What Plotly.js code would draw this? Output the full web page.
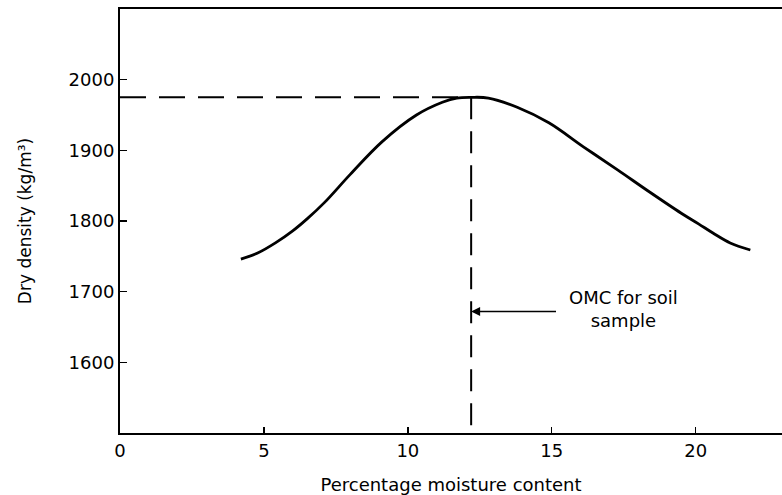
<!DOCTYPE html>
<html>
<head>
<meta charset="utf-8">
<script src="https://cdn.plot.ly/plotly-3.0.1.min.js"></script>
<style>html,body{margin:0;padding:0;background:#fff;}#chart{width:782px;height:495px;}</style>
</head>
<body>
<div id="chart"></div>
<script>
// Data
const moisture = [4.2, 4.8, 5.4, 6.0, 6.5, 7.1, 8.0, 9.1, 10.3, 11.2, 11.7, 12.2, 12.8, 13.8, 14.9, 16.1, 17.3, 18.4, 19.5, 20.1, 20.6, 21.2, 21.9];
const density = [1746, 1755, 1769, 1786, 1803, 1826, 1866, 1912, 1950, 1968, 1974, 1975, 1974, 1961, 1939, 1905, 1872, 1841, 1811, 1796, 1783, 1769, 1759];
const omc = 12.2;
const maxDensity = 1975;
const xTicks = [0, 5, 10, 15, 20];
const yTicks = [1600, 1700, 1800, 1900, 2000];
const arrowStartX = 15.2;
const arrowY = 1672;
const labelX = 17.5;
const labelY = 1676;
const labelText = "OMC for soil<br>sample";

const font = {family: "DejaVu Sans, Arial, sans-serif", color: "#000"};
const fs = 18;

const traces = [
  {
    x: moisture, y: density, type: "scatter", mode: "lines",
    line: {color: "#000", width: 2.8, shape: "spline", smoothing: 1},
    hoverinfo: "skip", showlegend: false
  },
  {
    x: [0, omc], y: [maxDensity, maxDensity], type: "scatter", mode: "lines",
    line: {color: "#000", width: 2, dash: "26px,13px"},
    hoverinfo: "skip", showlegend: false
  },
  {
    x: [omc, omc], y: [maxDensity, 1500], type: "scatter", mode: "lines",
    line: {color: "#000", width: 2, dash: "22px,12px"},
    hoverinfo: "skip", showlegend: false
  }
];

const layout = {
  width: 782, height: 495,
  margin: {l: 120, r: 0, t: 9, b: 62},
  paper_bgcolor: "#fff", plot_bgcolor: "#fff",
  showlegend: false,
  font: Object.assign({size: fs}, font),
  xaxis: {
    range: [0, 23], tickvals: xTicks, ticktext: xTicks.map(String),
    showgrid: false, zeroline: false,
    showline: true, mirror: true, linecolor: "#000", linewidth: 2,
    ticks: "inside", ticklen: 6, tickwidth: 1.5, tickcolor: "#000",
    tickfont: Object.assign({size: fs}, font),
    title: {text: "Percentage moisture content", font: Object.assign({size: fs}, font), standoff: 20}
  },
  yaxis: {
    range: [1500, 2100], tickvals: yTicks, ticktext: yTicks.map(String),
    showgrid: false, zeroline: false,
    showline: true, linecolor: "#000", linewidth: 2,
    ticks: "inside", ticklen: 7, tickwidth: 1.5, tickcolor: "#000",
    tickfont: Object.assign({size: fs}, font),
    title: {text: "Dry density (kg/m³)", font: Object.assign({size: 17}, font), standoff: 33}
  },
  annotations: [
    {
      x: omc, y: arrowY, xref: "x", yref: "y",
      ax: arrowStartX, ay: arrowY, axref: "x", ayref: "y",
      showarrow: true, arrowhead: 2, arrowsize: 1.2, arrowwidth: 1.5, arrowcolor: "#000",
      text: ""
    },
    {
      x: labelX, y: labelY, xref: "x", yref: "y",
      showarrow: false, text: labelText, align: "center",
      font: Object.assign({size: fs}, font)
    }
  ]
};

Plotly.newPlot("chart", traces, layout, {staticPlot: true, displayModeBar: false});
</script>
</body>
</html>
